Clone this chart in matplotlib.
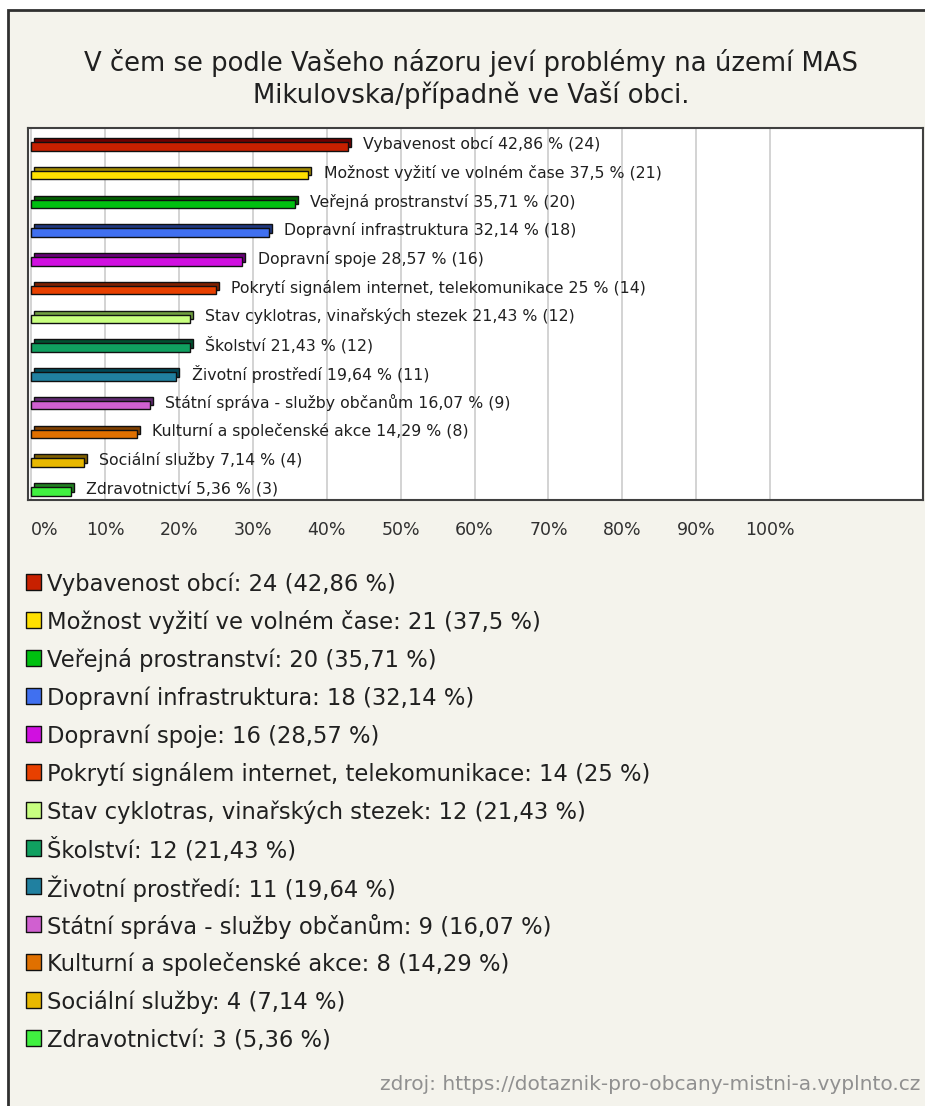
import matplotlib
matplotlib.use("Agg")
from matplotlib import pyplot as plt
from matplotlib.patches import Rectangle
import matplotlib.transforms as mtransforms

plt.rcParams["font.family"] = ["DejaVu Sans"]

categories = [
    "Vybavenost obcí",
    "Možnost vyžití ve volném čase",
    "Veřejná prostranství",
    "Dopravní infrastruktura",
    "Dopravní spoje",
    "Pokrytí signálem internet, telekomunikace",
    "Stav cyklotras, vinařských stezek",
    "Školství",
    "Životní prostředí",
    "Státní správa - služby občanům",
    "Kulturní a společenské akce",
    "Sociální služby",
    "Zdravotnictví",
]
counts = [24, 21, 20, 18, 16, 14, 12, 12, 11, 9, 8, 4, 3]
percents = [42.86, 37.5, 35.71, 32.14, 28.57, 25, 21.43, 21.43, 19.64, 16.07, 14.29, 7.14, 5.36]

front_colors = ["#c82000", "#ffe000", "#00c010", "#4070f0", "#d010e0", "#e84000", "#c8ff80",
                "#10a060", "#2080a0", "#d060d0", "#e07000", "#e8b800", "#40f040"]
top_colors = ["#700000", "#a08800", "#006000", "#203880", "#680078", "#802000", "#70a040",
              "#005030", "#004858", "#602870", "#804000", "#806000", "#208020"]

ticks = [0, 10, 20, 30, 40, 50, 60, 70, 80, 90, 100]
tick_labels = [f"{t}%" for t in ticks]

title = "V čem se podle Vašeho názoru jeví problémy na území MAS\nMikulovska/případně ve Vaší obci."
source = "zdroj: https://dotaznik-pro-obcany-mistni-a.vyplnto.cz"


def fmt(p):
    return f"{p:g}".replace(".", ",")


W, H = 925, 1106
fig = plt.figure(figsize=(W / 100, H / 100), dpi=100, facecolor="white")

# frame of the whole picture
fig.add_artist(Rectangle((8 / W, -0.05), 1.2, 1 - 10 / H + 0.05, transform=fig.transFigure,
                         facecolor="#f4f3ec", edgecolor="#303030", lw=2, zorder=0))

fig.text(471 / W, 1 - 79 / H, title, ha="center", va="center", fontsize=18.6,
         color="#202020", linespacing=1.22)

ax = fig.add_axes([28 / W, 1 - 500 / H, 895 / W, 372 / H])
ax.set_facecolor("white")
ypos = list(range(len(categories)))

# 3D look: darker bar shifted up and right behind the front bar
shift = mtransforms.offset_copy(ax.transData, fig=fig, x=3, y=4, units="dots")
ax.barh(ypos, percents, height=0.3, color=top_colors, edgecolor="#101010", lw=1,
        transform=shift, zorder=2)
ax.barh(ypos, percents, height=0.3, color=front_colors, edgecolor="#101010", lw=1, zorder=3)

for y, cat, p, n in zip(ypos, categories, percents, counts):
    ax.annotate(f"{cat} {fmt(p)} % ({n})", (p, y), xytext=(11, 2.8), textcoords="offset points",
                ha="left", va="center_baseline", fontsize=11.3, color="#202020", zorder=4)

ax.set_xlim(-0.45, 120.7)
ax.set_ylim(12.3, -0.64)
ax.set_yticks([])
ax.set_xticks(ticks)
ax.set_xticklabels(tick_labels, fontsize=12.5, color="#303030")
ax.get_xticklabels()[0].set_ha("left")
ax.tick_params(axis="x", length=0, pad=15)
ax.grid(axis="x", color="#cccccc", lw=1.2, zorder=1)
for s in ax.spines.values():
    s.set_color("#404040")
    s.set_linewidth(1.5)

# legend rows: colour square + text
leg = fig.add_axes([0, 1 - 1060 / H, 1, 500 / H])
leg.set_xlim(0, W)
leg.set_ylim(12.58, -0.579)
leg.axis("off")
leg.scatter([33.5] * len(categories), ypos, s=118, marker="s", c=front_colors,
            edgecolors="#101010", linewidths=1)
for y, cat, p, n in zip(ypos, categories, percents, counts):
    leg.text(47, y, f"{cat}: {n} ({fmt(p)} %)", ha="left", va="center_baseline",
             fontsize=16.3, color="#202020")

fig.text(920 / W, 1 - 1085 / H, source, ha="right", va="center", fontsize=14.5, color="#909090")

fig.savefig("out.png", dpi=100, facecolor="white")
